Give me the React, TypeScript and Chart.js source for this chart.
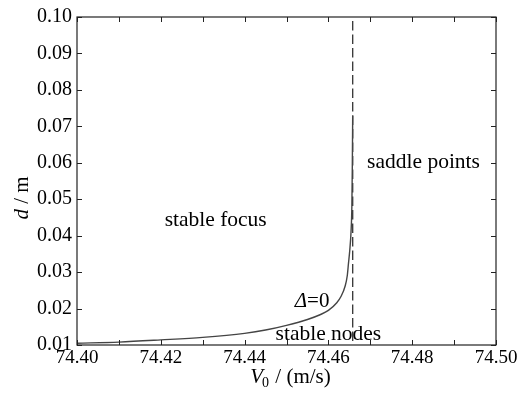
import { useEffect, useRef } from 'react';
import { Chart, registerables } from 'chart.js';

Chart.register(...registerables);

// Δ=0 boundary curve (V0 in m/s, d in m)
const curveV = [74.400, 74.410, 74.420, 74.430, 74.440, 74.445, 74.450, 74.455, 74.458, 74.460, 74.462, 74.463, 74.464, 74.4645, 74.4648, 74.4651, 74.4654, 74.4656, 74.4657, 74.4658];
const curveD = [0.0105, 0.0108, 0.0114, 0.0121, 0.0132, 0.0141, 0.0154, 0.0170, 0.0183, 0.0195, 0.0216, 0.0233, 0.0262, 0.0290, 0.0325, 0.0360, 0.0410, 0.0480, 0.0580, 0.0730];

// vertical dashed boundary
const boundaryV = [74.4658, 74.4658];
const boundaryD = [0.10, 0.01];

const xTickValues = [74.40, 74.41, 74.42, 74.43, 74.44, 74.45, 74.46, 74.47, 74.48, 74.49, 74.50];
const xTickLabels = ['74.40', '', '74.42', '', '74.44', '', '74.46', '', '74.48', '', '74.50'];
const yTickValues = [0.01, 0.02, 0.03, 0.04, 0.05, 0.06, 0.07, 0.08, 0.09, 0.10];
const yTickLabels = ['0.01', '0.02', '0.03', '0.04', '0.05', '0.06', '0.07', '0.08', '0.09', '0.10'];

const regionLabels = ['stable focus', 'saddle points', 'stable nodes'];
const regionV = [74.4331, 74.4827, 74.4600];
const regionD = [0.04273, 0.05854, 0.01136];

const deltaLabelV = 74.4561;
const deltaLabelD = 0.02036;

const SERIF = '"Liberation Serif", "Times New Roman", serif';

const decorPlugin = {
  id: 'decor',
  afterDatasetsDraw(chart: any) {
    const ctx = chart.ctx as CanvasRenderingContext2D;
    const { left, right, top, bottom } = chart.chartArea;
    const xs = chart.scales.x;
    const ys = chart.scales.y;
    ctx.save();
    // frame
    ctx.strokeStyle = '#222';
    ctx.lineWidth = 1.2;
    ctx.strokeRect(left, top, right - left, bottom - top);
    // inward ticks
    const tl = 5;
    ctx.beginPath();
    xTickValues.forEach((v) => {
      const px = Math.round(xs.getPixelForValue(v)) + 0.5;
      ctx.moveTo(px, bottom);
      ctx.lineTo(px, bottom - tl);
      ctx.moveTo(px, top);
      ctx.lineTo(px, top + tl);
    });
    yTickValues.forEach((v) => {
      const py = Math.round(ys.getPixelForValue(v)) + 0.5;
      ctx.moveTo(left, py);
      ctx.lineTo(left + tl, py);
      ctx.moveTo(right, py);
      ctx.lineTo(right - tl, py);
    });
    ctx.lineWidth = 1;
    ctx.stroke();

    // region labels
    ctx.fillStyle = '#000';
    ctx.textBaseline = 'alphabetic';
    ctx.textAlign = 'center';
    ctx.font = `21.5px ${SERIF}`;
    regionLabels.forEach((t, i) => {
      ctx.fillText(t, xs.getPixelForValue(regionV[i]), ys.getPixelForValue(regionD[i]));
    });

    // Δ=0 label
    ctx.textAlign = 'left';
    const italic = `italic 21px ${SERIF}`;
    const normal = `21px ${SERIF}`;
    ctx.font = italic;
    const wD = ctx.measureText('Δ').width;
    ctx.font = normal;
    const wE = ctx.measureText('=0').width;
    const cx = xs.getPixelForValue(deltaLabelV);
    const by = ys.getPixelForValue(deltaLabelD);
    const sx = cx - (wD + wE) / 2;
    ctx.font = italic;
    ctx.fillText('Δ', sx, by);
    ctx.font = normal;
    ctx.fillText('=0', sx + wD, by);

    // x axis title: V0 / (m/s)
    const xMid = (left + right) / 2;
    ctx.font = italic;
    const wV = ctx.measureText('V').width;
    ctx.font = `14px ${SERIF}`;
    const w0 = ctx.measureText('0').width;
    ctx.font = normal;
    const wRest = ctx.measureText(' / (m/s)').width;
    const total = wV + w0 + wRest;
    let x0 = xMid + 4 - total / 2;
    const xb = 383;
    ctx.font = italic;
    ctx.fillText('V', x0, xb);
    x0 += wV;
    ctx.font = `14px ${SERIF}`;
    ctx.fillText('0', x0 - 1, xb + 4);
    x0 += w0;
    ctx.font = normal;
    ctx.fillText(' / (m/s)', x0, xb);

    // y axis title: d / m (rotated)
    ctx.save();
    ctx.translate(28, 198);
    ctx.rotate(-Math.PI / 2);
    ctx.font = italic;
    const wd = ctx.measureText('d').width;
    ctx.font = normal;
    const wm = ctx.measureText(' / m').width;
    let y0 = -(wd + wm) / 2;
    ctx.font = italic;
    ctx.fillText('d', y0, 0);
    y0 += wd;
    ctx.font = normal;
    ctx.fillText(' / m', y0, 0);
    ctx.restore();

    ctx.restore();
  },
};

export default function App() {
  const ref = useRef<HTMLCanvasElement | null>(null);
  useEffect(() => {
    if (!ref.current) return;
    const chart = new Chart(ref.current, {
      type: 'scatter',
      data: {
        datasets: [
          {
            data: curveV.map((v, i) => ({ x: v, y: curveD[i] })),
            showLine: true,
            borderColor: '#444',
            borderWidth: 1.4,
            pointRadius: 0,
            cubicInterpolationMode: 'monotone',
          },
          {
            data: boundaryV.map((v, i) => ({ x: v, y: boundaryD[i] })),
            showLine: true,
            borderColor: '#333',
            borderWidth: 1.3,
            borderDash: [9.5, 4],
            borderDashOffset: 9.5,
            pointRadius: 0,
          },
        ],
      } as any,
      options: {
        responsive: false,
        animation: false,
        events: [],
        layout: { padding: { left: 0, top: 15, right: 36, bottom: 0 } },
        plugins: { legend: { display: false }, tooltip: { enabled: false } },
        font: { family: SERIF } as any,
        scales: {
          x: {
            type: 'linear',
            min: 74.40,
            max: 74.50,
            grid: { display: false, drawTicks: false },
            border: { display: false },
            afterBuildTicks: (s: any) => {
              s.ticks = xTickValues.map((value) => ({ value }));
            },
            afterFit: (s: any) => {
              s.height = 48;
            },
            ticks: {
              autoSkip: false,
              maxRotation: 0,
              padding: 2,
              color: '#000',
              font: { family: SERIF, size: 19 },
              callback: (_v: any, i: number) => xTickLabels[i],
            },
          },
          y: {
            type: 'linear',
            min: 0.01,
            max: 0.10,
            grid: { display: false, drawTicks: false },
            border: { display: false },
            afterBuildTicks: (s: any) => {
              s.ticks = yTickValues.map((value) => ({ value }));
            },
            afterFit: (s: any) => {
              s.width = 77;
            },
            ticks: {
              autoSkip: false,
              padding: 5,
              color: '#000',
              font: { family: SERIF, size: 20 },
              callback: (_v: any, i: number) => yTickLabels[i],
            },
          },
        },
      },
      plugins: [decorPlugin],
    } as any);
    return () => chart.destroy();
  }, []);
  return (
    <div style={{ position: 'absolute', left: 0, top: 0, width: 532, height: 393, background: '#fff' }}>
      <canvas ref={ref} width={532} height={393} style={{ display: 'block' }} />
    </div>
  );
}
